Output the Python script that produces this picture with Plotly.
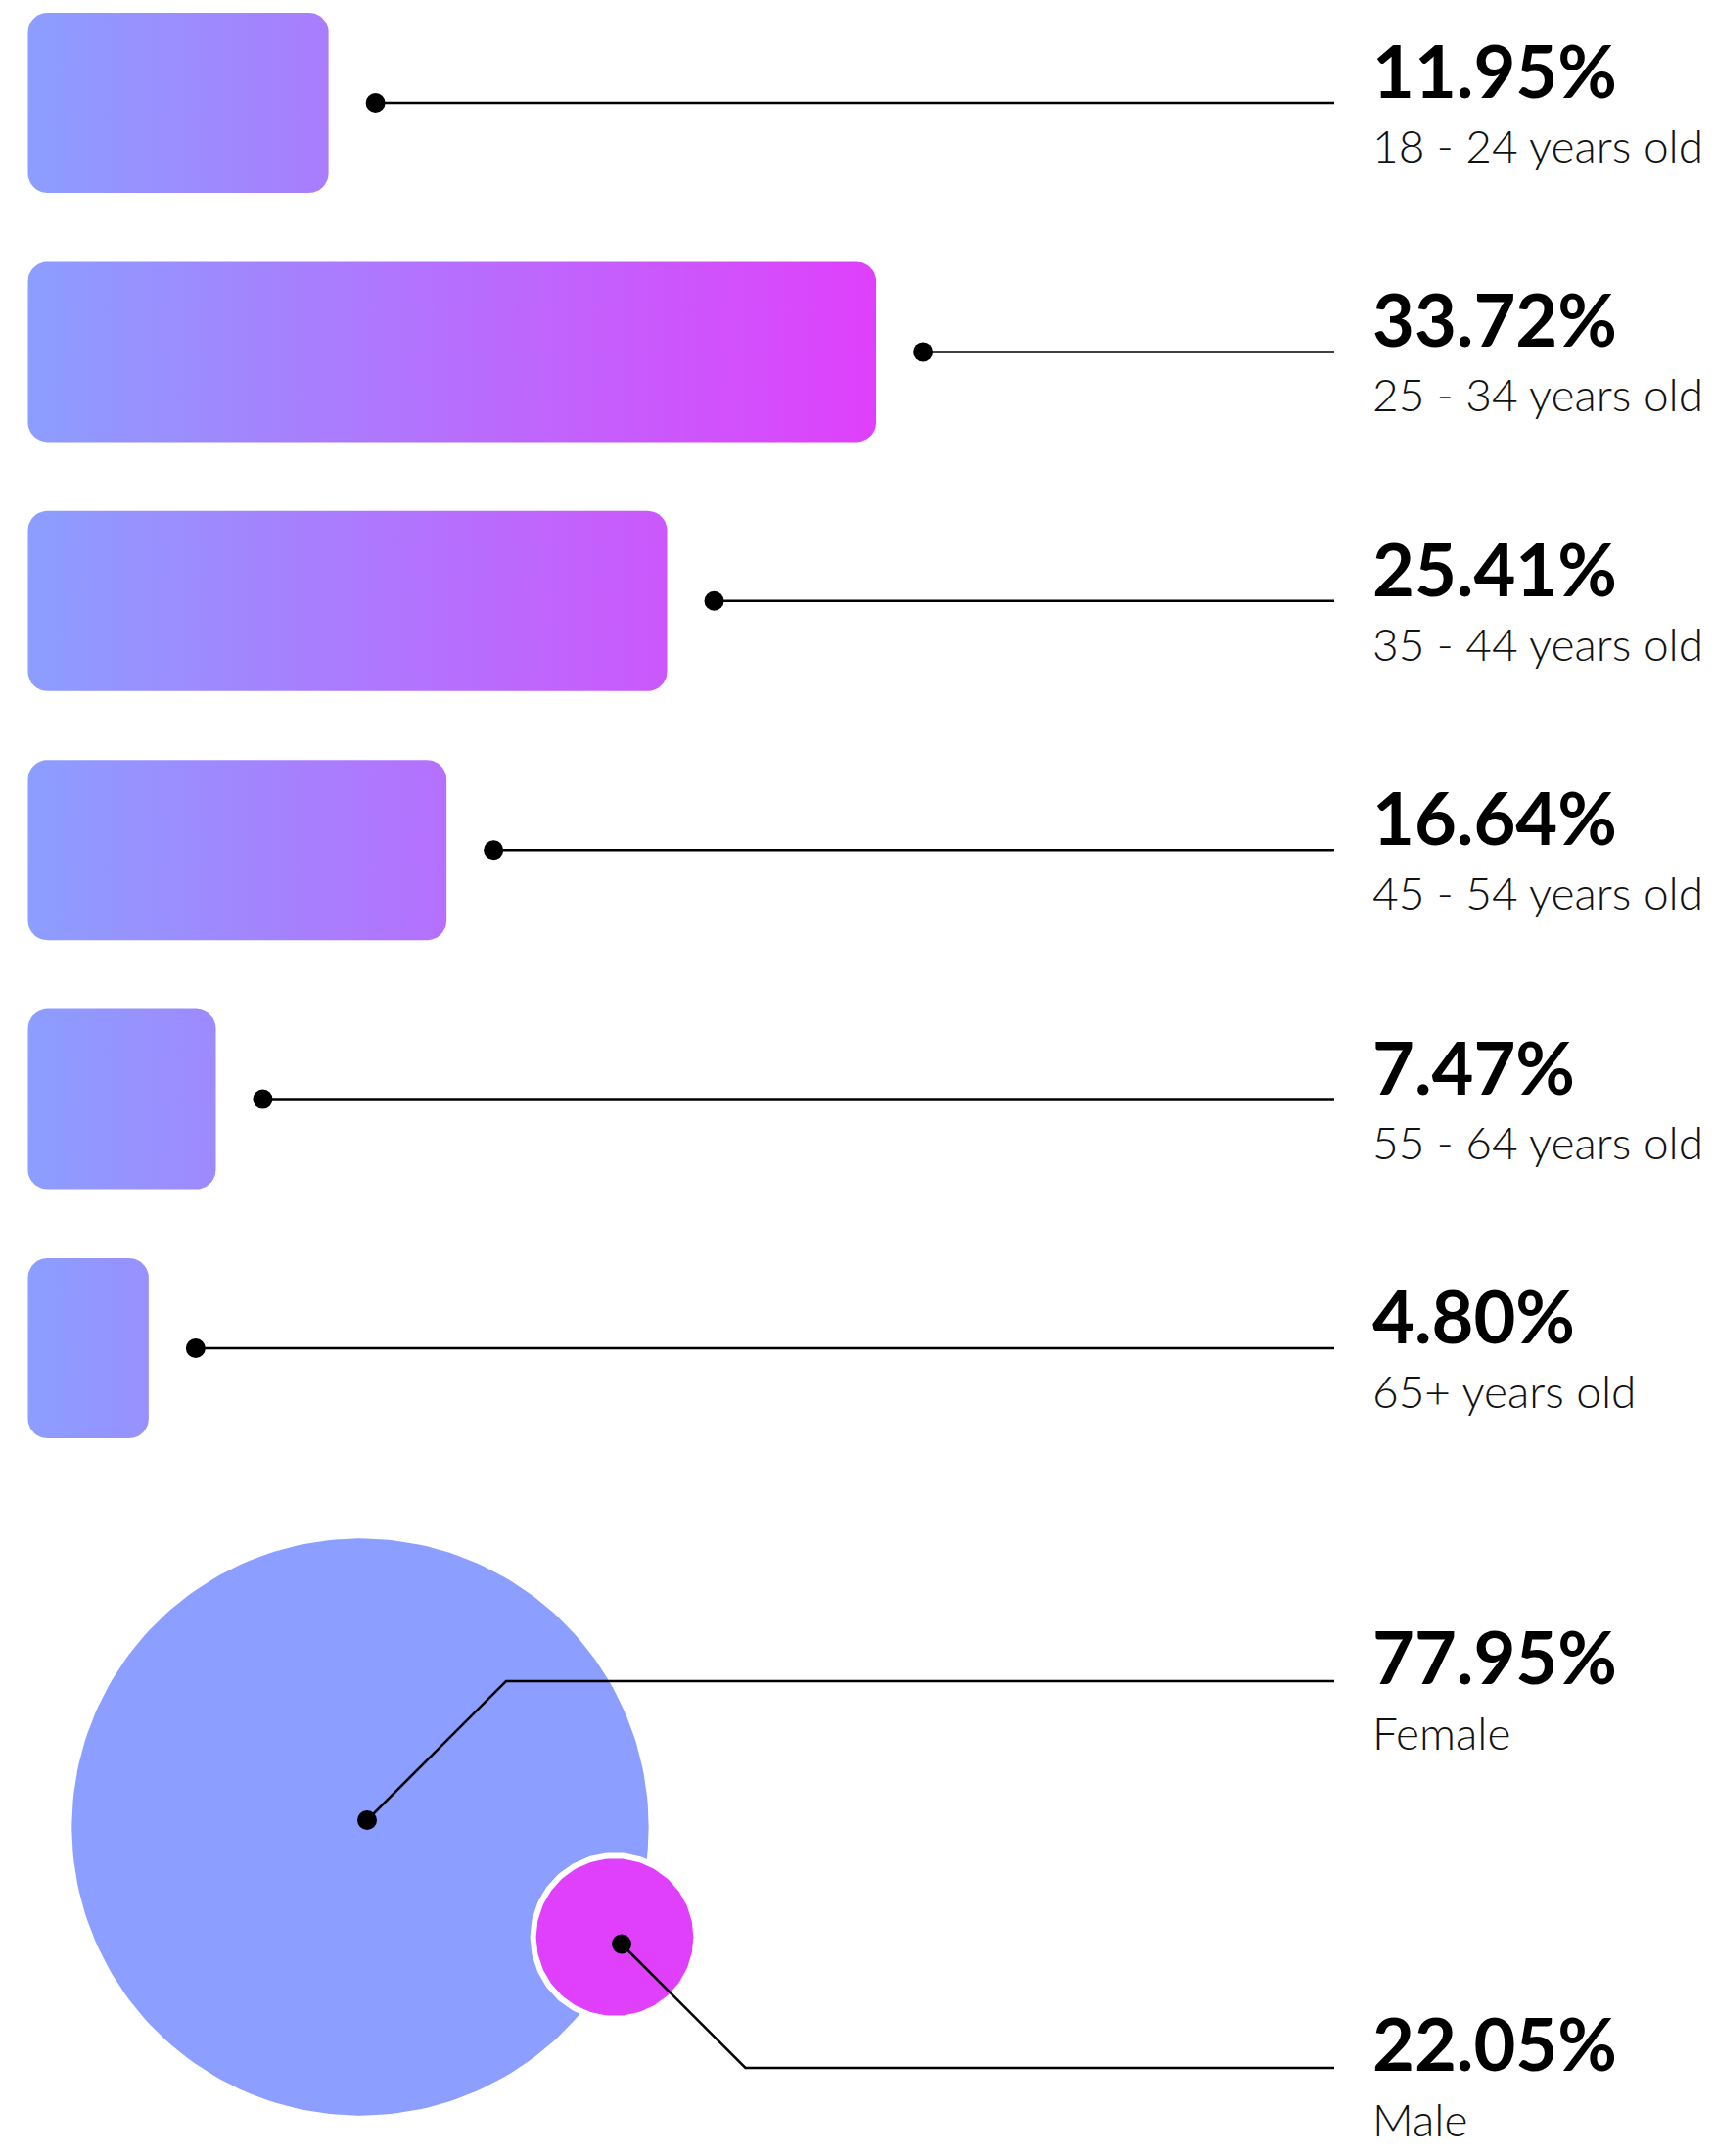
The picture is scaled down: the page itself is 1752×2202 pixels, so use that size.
import numpy as np
import plotly.graph_objects as go

# ---------------- data ----------------
age_groups = ["18 - 24 years old", "25 - 34 years old", "35 - 44 years old",
              "45 - 54 years old", "55 - 64 years old", "65+ years old"]
age_values = [11.95, 33.72, 25.41, 16.64, 7.47, 4.80]

genders = ["Female", "Male"]
gender_values = [77.95, 22.05]

# ---------------- layout constants (pixels) ----------------
W, H = 1752, 2202
BAR_X0 = 28.5
PX_PER_PCT = 25.7
ROW0_Y = 105.0
ROW_STEP = 254.4
BAR_H = 184.0
CORNER_R = 20.0
DOT_GAP = 48.0
LINE_END_X = 1363.0
TEXT_X = 1400.0
DOT_SIZE = 20
LINE_W = 2.5

C_START = "#8C9EFF"
C_END = "#E040FB"

CIRCLE_PX_PER_PCT = 3.78
CIRCLE_CENTERS = [(368.0, 1866.0), (628.0, 1978.5)]
DOT_OFFSET = 7.0
LEADER_Y = [1717.0, 2112.0]
LEADER_DIR = [-1, 1]  # female leader goes up, male goes down

FONT = "Lato"
PCT_SIZE = 74
SUB_SIZE = 46


def rounded_rect(x0, x1, y0, y1, r, n=14):
    r = min(r, (x1 - x0) / 2, (y1 - y0) / 2)
    xs, ys = [], []
    corners = [
        (x1 - r, y0 + r, -np.pi / 2, 0),          # top-right
        (x1 - r, y1 - r, 0, np.pi / 2),           # bottom-right
        (x0 + r, y1 - r, np.pi / 2, np.pi),       # bottom-left
        (x0 + r, y0 + r, np.pi, 1.5 * np.pi),     # top-left
    ]
    for cx, cy, a0, a1 in corners:
        t = np.linspace(a0, a1, n)
        xs.extend(cx + r * np.cos(t))
        ys.extend(cy + r * np.sin(t))
    xs.append(xs[0])
    ys.append(ys[0])
    return xs, ys


def circle(cx, cy, r, n=240):
    t = np.linspace(0, 2 * np.pi, n)
    return list(cx + r * np.cos(t)), list(cy + r * np.sin(t))


fig = go.Figure()
annotations = []

grad_stop = BAR_X0 + max(age_values) * PX_PER_PCT

# ---------------- bars ----------------
for i, (lab, v) in enumerate(zip(age_groups, age_values)):
    yc = ROW0_Y + i * ROW_STEP
    x1 = BAR_X0 + v * PX_PER_PCT
    xs, ys = rounded_rect(BAR_X0, x1, yc - BAR_H / 2, yc + BAR_H / 2, CORNER_R)
    fig.add_trace(go.Scatter(
        x=xs, y=ys, mode="lines", fill="toself",
        line=dict(width=0, color="rgba(0,0,0,0)"),
        fillgradient=dict(type="horizontal", start=BAR_X0, stop=grad_stop,
                          colorscale=[[0, C_START], [1, C_END]]),
        hoverinfo="skip", showlegend=False))
    dx = x1 + DOT_GAP
    fig.add_trace(go.Scatter(
        x=[dx, LINE_END_X], y=[yc, yc], mode="lines",
        line=dict(color="black", width=LINE_W),
        hoverinfo="skip", showlegend=False))
    fig.add_trace(go.Scatter(
        x=[dx], y=[yc], mode="markers",
        marker=dict(color="black", size=DOT_SIZE, line=dict(width=0)),
        hoverinfo="skip", showlegend=False))
    annotations.append(dict(
        x=TEXT_X, y=yc - 33.5, xref="x", yref="y", xanchor="left", yanchor="middle",
        text=f"{v:.2f}%", showarrow=False,
        font=dict(family=FONT, size=PCT_SIZE, color="black", weight=700)))
    annotations.append(dict(
        x=TEXT_X, y=yc + 43.5, xref="x", yref="y", xanchor="left", yanchor="middle",
        text=lab, showarrow=False,
        font=dict(family=FONT, size=SUB_SIZE, color="#111111", weight=300)))

# ---------------- circles ----------------
circle_colors = [C_START, C_END]
for i, (g, v) in enumerate(zip(genders, gender_values)):
    cx, cy = CIRCLE_CENTERS[i]
    r = v * CIRCLE_PX_PER_PCT
    xs, ys = circle(cx, cy, r)
    fig.add_trace(go.Scatter(
        x=xs, y=ys, mode="lines", fill="toself", fillcolor=circle_colors[i],
        line=dict(width=0 if i == 0 else 6, color="white"),
        hoverinfo="skip", showlegend=False))

for i, (g, v) in enumerate(zip(genders, gender_values)):
    cx, cy = CIRCLE_CENTERS[i]
    d = LEADER_DIR[i]
    dotx, doty = cx + DOT_OFFSET, cy + d * DOT_OFFSET
    ly = LEADER_Y[i]
    elbow_x = dotx + abs(ly - doty)
    fig.add_trace(go.Scatter(
        x=[dotx, elbow_x, LINE_END_X], y=[doty, ly, ly], mode="lines",
        line=dict(color="black", width=LINE_W),
        hoverinfo="skip", showlegend=False))
    fig.add_trace(go.Scatter(
        x=[dotx], y=[doty], mode="markers",
        marker=dict(color="black", size=DOT_SIZE, line=dict(width=0)),
        hoverinfo="skip", showlegend=False))
    annotations.append(dict(
        x=TEXT_X, y=ly - 26, xref="x", yref="y", xanchor="left", yanchor="middle",
        text=f"{v:.2f}%", showarrow=False,
        font=dict(family=FONT, size=PCT_SIZE, color="black", weight=700)))
    annotations.append(dict(
        x=TEXT_X, y=ly + 52, xref="x", yref="y", xanchor="left", yanchor="middle",
        text=g, showarrow=False,
        font=dict(family=FONT, size=SUB_SIZE, color="#111111", weight=300)))

fig.update_layout(
    width=W, height=H,
    margin=dict(l=0, r=0, t=0, b=0, pad=0),
    paper_bgcolor="white", plot_bgcolor="white",
    xaxis=dict(range=[0, W], visible=False, fixedrange=True),
    yaxis=dict(range=[H, 0], visible=False, fixedrange=True),
    annotations=annotations,
    showlegend=False,
)

fig.write_html("out.html", config={"displayModeBar": False},
               post_script="document.body.style.margin='0';")
